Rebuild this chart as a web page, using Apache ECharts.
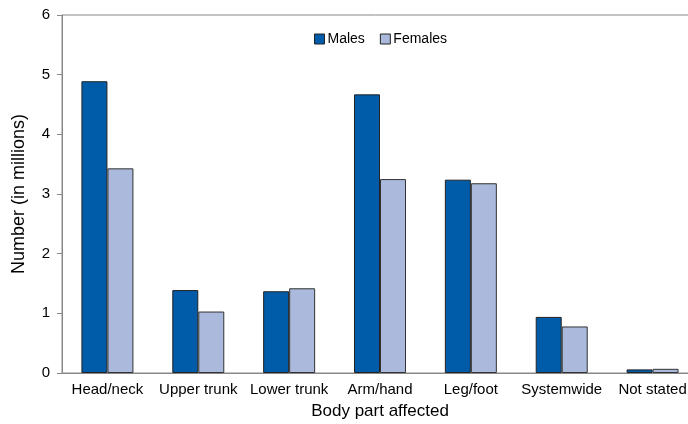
<!DOCTYPE html>
<html><head><meta charset="utf-8">
<script src="https://cdn.jsdelivr.net/npm/echarts@6/dist/echarts.min.js"></script>
<style>html,body{margin:0;padding:0;background:#fff}#c{width:688px;height:424px}</style>
</head><body><div id="c"></div>
<script>
var categories = ['Head/neck','Upper trunk','Lower trunk','Arm/hand','Leg/foot','Systemwide','Not stated'];
var males = [4.89, 1.39, 1.37, 4.67, 3.24, 0.94, 0.06];
var females = [3.43, 1.03, 1.42, 3.25, 3.18, 0.78, 0.07];
var yTicks = [0, 1, 2, 3, 4, 5, 6];

var chart = echarts.init(document.getElementById('c'));
var font = 'Liberation Sans, Arial, sans-serif';
chart.setOption({
  animation: false,
  textStyle: {fontFamily: font},
  legend: {
    top: 27, left: 309, itemWidth: 10, itemHeight: 10, itemGap: 15,
    icon: 'rect',
    textStyle: {fontSize: 14, color: '#000', fontFamily: font, padding: [0,0,0,-2]},
    data: [{name:'Males', itemStyle:{borderColor:'#222',borderWidth:1}}, {name:'Females', itemStyle:{borderColor:'#222',borderWidth:1}}]
  },
  grid: {left: 62, right: -10, top: 15, bottom: 51, show: true, borderColor: '#888', borderWidth: 1,
         containLabel: false, outerBoundsMode: 'none'},
  xAxis: {
    type: 'category', data: categories,
    axisLine: {lineStyle: {color: '#888'}},
    axisTick: {alignWithLabel: true, length: 5, lineStyle: {color: '#888'}},
    axisLabel: {color: '#000', fontSize: 15, margin: 9, interval: 0, fontFamily: font},
    name: 'Body part affected', nameLocation: 'middle', nameGap: 30,
    nameTextStyle: {fontSize: 17, color: '#000', fontFamily: font}
  },
  yAxis: {
    type: 'value', min: yTicks[0], max: yTicks[yTicks.length-1], interval: 1,
    splitLine: {show: false},
    axisLine: {show: true, lineStyle: {color: '#888'}},
    axisTick: {show: true, length: 5, lineStyle: {color: '#888'}},
    axisLabel: {color: '#000', fontSize: 15, margin: 12, fontFamily: font},
    name: 'Number (in millions)', nameLocation: 'middle', nameGap: 34,
    nameTextStyle: {fontSize: 18, color: '#000', fontFamily: font}
  },
  series: [
    {name: 'Males', type: 'bar', data: males, barWidth: 26, barGap: '0%',
     itemStyle: {color: '#005CA8', borderColor: '#222', borderWidth: 1}},
    {name: 'Females', type: 'bar', data: females, barWidth: 26,
     itemStyle: {color: '#AAB9DC', borderColor: '#333', borderWidth: 1}}
  ]
});
</script></body></html>
